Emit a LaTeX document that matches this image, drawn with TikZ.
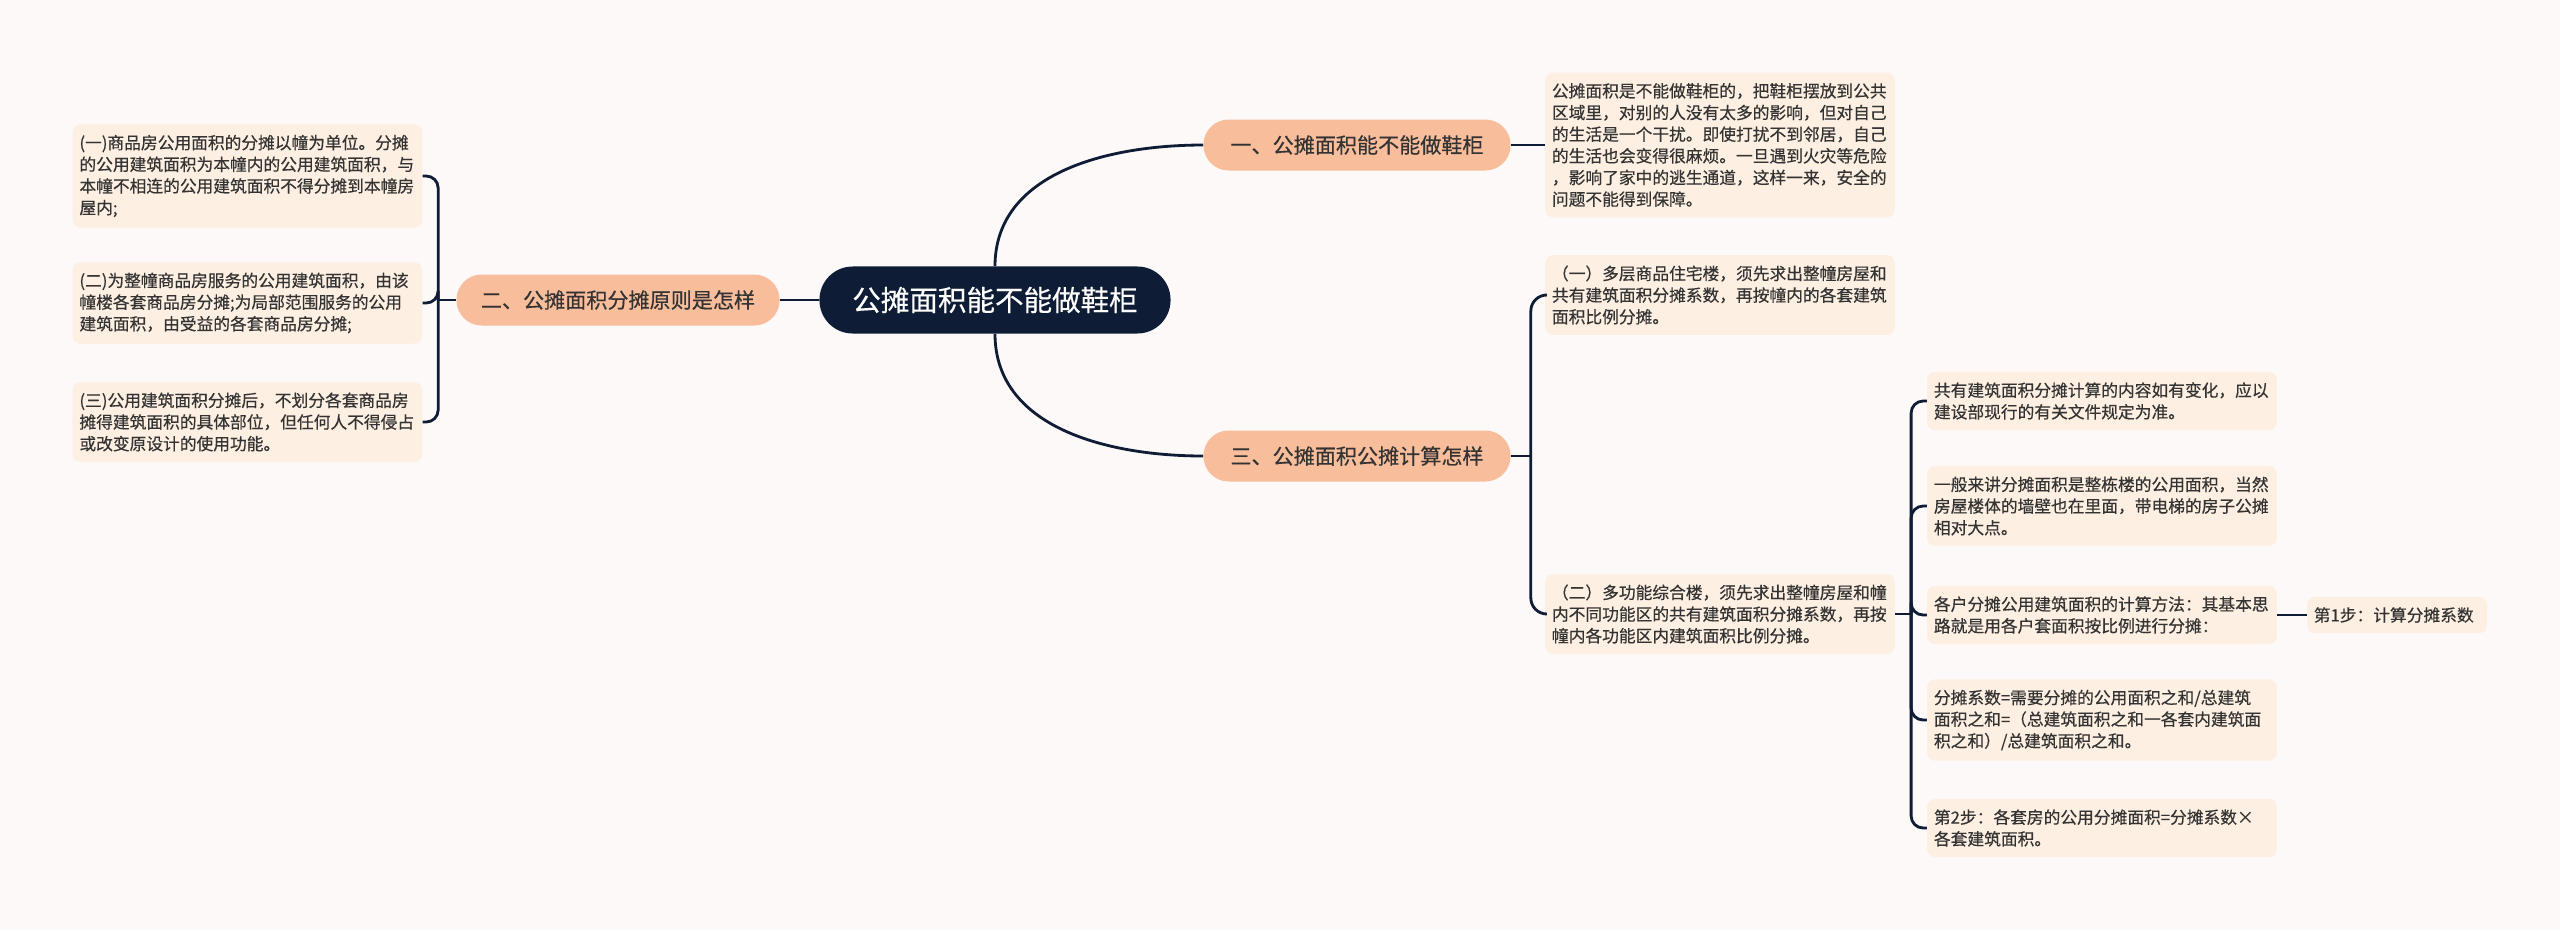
\documentclass[tikz,border=0pt]{standalone}
\usepackage{fontspec}
\setmainfont{Noto Sans CJK SC}[FakeBold=0.4]
\usetikzlibrary{positioning}
\definecolor{paper}{HTML}{FCF9F8}
\definecolor{navy}{HTML}{0E1D35}
\definecolor{salmon}{HTML}{F8BD9B}
\definecolor{peach}{HTML}{FDEFE1}
\definecolor{ink}{HTML}{333333}
\begin{document}
\begin{tikzpicture}[
    x=0.025cm, y=-0.025cm,
    root/.style={rectangle, rounded corners=0.83cm, fill=navy, text=white, minimum width=8.775cm, minimum height=1.675cm, font=\fontsize{20.3}{24}\selectfont},
    topic/.style={rectangle, rounded corners=0.63cm, fill=salmon, text=ink, minimum height=1.275cm, font=\fontsize{15}{18}\selectfont},
    note/.style={rectangle, rounded corners=0.2cm, fill=peach, text=ink, text width=8.4cm, inner xsep=0.17cm, inner ysep=0.26cm, align=left, font=\fontsize{11.9}{15.4}\selectfont},
    link/.style={draw=navy, line width=2pt}
]
    % Background
    \fill[paper] (0,0) rectangle (2560,930);
    \useasboundingbox (0,0) rectangle (2560,930);

    % Centre and main topics
    \node[root] (root) at (995,300) {公摊面积能不能做鞋柜};
    \node[topic, minimum width=7.675cm] (topic1) at (1357,145) {一、公摊面积能不能做鞋柜};
    \node[topic, minimum width=8.075cm] (topic2) at (618,300) {二、公摊面积分摊原则是怎样};
    \node[topic, minimum width=7.675cm] (topic3) at (1357,456) {三、公摊面积公摊计算怎样};

    % Notes of topic 1
    \node[note] (shoe) at (1720,145) {公摊面积是不能做鞋柜的，把鞋柜摆放到公共\\区域里，对别的人没有太多的影响，但对自己\\的生活是一个干扰。即使打扰不到邻居，自己\\的生活也会变得很麻烦。一旦遇到火灾等危险\\，影响了家中的逃生通道，这样一来，安全的\\问题不能得到保障。};

    % Notes of topic 2
    \node[note] (rule1) at (247.5,176) {(一)商品房公用面积的分摊以幢为单位。分摊\\的公用建筑面积为本幢内的公用建筑面积，与\\本幢不相连的公用建筑面积不得分摊到本幢房\\屋内;};
    \node[note] (rule2) at (247.5,303) {(二)为整幢商品房服务的公用建筑面积，由该\\幢楼各套商品房分摊;为局部范围服务的公用\\建筑面积，由受益的各套商品房分摊;};
    \node[note] (rule3) at (247.5,422) {(三)公用建筑面积分摊后，不划分各套商品房\\摊得建筑面积的具体部位，但任何人不得侵占\\或改变原设计的使用功能。};

    % Notes of topic 3
    \node[note] (multi) at (1720,295) {（一）多层商品住宅楼，须先求出整幢房屋和\\共有建筑面积分摊系数，再按幢内的各套建筑\\面积比例分摊。};
    \node[note] (mixed) at (1720,614) {（二）多功能综合楼，须先求出整幢房屋和幢\\内不同功能区的共有建筑面积分摊系数，再按\\幢内各功能区内建筑面积比例分摊。};

    % Details of the mixed-use building
    \node[note] (calc1) at (2102,401) {共有建筑面积分摊计算的内容如有变化，应以\\建设部现行的有关文件规定为准。};
    \node[note] (calc2) at (2102,506) {一般来讲分摊面积是整栋楼的公用面积，当然\\房屋楼体的墙壁也在里面，带电梯的房子公摊\\相对大点。};
    \node[note] (calc3) at (2102,615) {各户分摊公用建筑面积的计算方法：其基本思\\路就是用各户套面积按比例进行分摊：};
    \node[note] (calc4) at (2102,720) {分摊系数=需要分摊的公用面积之和/总建筑\\面积之和=（总建筑面积之和一各套内建筑面\\积之和）/总建筑面积之和。};
    \node[note] (calc5) at (2102,828) {第2步：各套房的公用分摊面积=分摊系数×\\各套建筑面积。};
    \node[note, text width=4.16cm] (step1) at (2397,615) {第1步：计算分摊系数};

    % Links
    \draw[link] (root.north) to[out=90, in=180] (topic1.west);
    \draw[link] (root.south) to[out=-90, in=180] (topic3.west);
    \draw[link] (root.west) -- (topic2.east);

    \draw[link] (topic1.east) -- (shoe.west);

    \draw[link] (topic2.west) -- ++(-18,0) coordinate (fork2);
    \foreach \n in {rule1, rule2, rule3}
        \draw[link, rounded corners=0.3cm] (fork2) |- (\n.east);

    \draw[link] (topic3.east) -- ++(20,0) coordinate (fork3);
    \draw[link, rounded corners=0.4cm] (fork3) |- (multi.west);
    \draw[link, rounded corners=0.4cm] (fork3) |- (mixed.west);

    \draw[link] (mixed.east) -- ++(16,0) coordinate (fork4);
    \foreach \n in {calc1, calc2, calc3, calc4, calc5}
        \draw[link, rounded corners=0.3cm] (fork4) |- (\n.west);

    \draw[link] (calc3.east) -- (step1.west);
\end{tikzpicture}
\end{document}
